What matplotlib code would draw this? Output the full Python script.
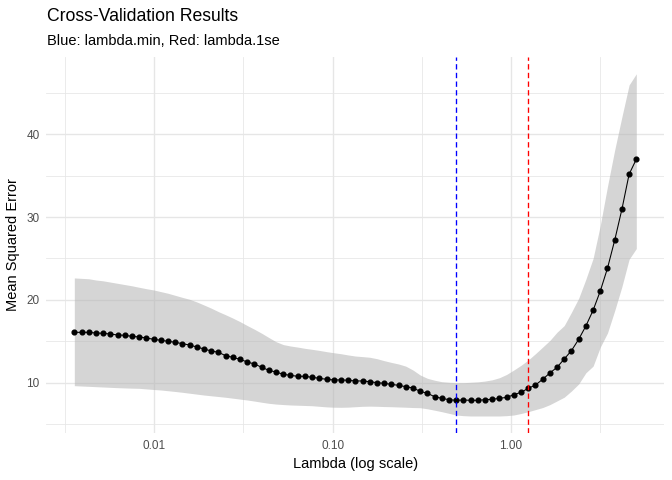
import numpy as np
import matplotlib
matplotlib.use("Agg")
import matplotlib.pyplot as plt
from matplotlib.ticker import FixedLocator, FixedFormatter

plt.rcParams['font.family'] = ['Liberation Sans', 'DejaVu Sans']

# cross-validation path
lam = [0.003565, 0.003913, 0.004294, 0.004713, 0.005172, 0.005676, 0.006229, 0.006836,
       0.007503, 0.008234, 0.009036, 0.009917, 0.01088, 0.01194, 0.01311, 0.01439,
       0.01579, 0.01733, 0.01902, 0.02087, 0.02291, 0.02514, 0.02759, 0.03028,
       0.03323, 0.03647, 0.04003, 0.04392, 0.04820, 0.05290, 0.05805, 0.06371,
       0.06992, 0.07674, 0.08422, 0.09243, 0.1014, 0.1113, 0.1222, 0.1341,
       0.1472, 0.1615, 0.1772, 0.1945, 0.2134, 0.2342, 0.2570, 0.2821,
       0.3096, 0.3398, 0.3729, 0.4092, 0.4491, 0.4929, 0.5409, 0.5936,
       0.6515, 0.7150, 0.7847, 0.8611, 0.9451, 1.037, 1.138, 1.249,
       1.371, 1.505, 1.651, 1.812, 1.988, 2.182, 2.396, 2.629,
       2.885, 3.166, 3.474, 3.813, 4.185, 4.592, 5.040]

mse = [16.08, 16.08, 16.08, 16.00, 15.96, 15.88, 15.76, 15.72, 15.60, 15.52,
       15.40, 15.24, 15.12, 15.00, 14.88, 14.71, 14.55, 14.31, 14.07, 13.83,
       13.67, 13.26, 13.06, 12.82, 12.50, 12.26, 11.86, 11.49, 11.29, 11.01,
       10.89, 10.77, 10.77, 10.65, 10.53, 10.41, 10.33, 10.33, 10.29, 10.21,
       10.21, 10.12, 10.00, 9.92, 9.80, 9.68, 9.52, 9.36, 8.96, 8.72,
       8.31, 8.11, 7.95, 7.87, 7.91, 7.87, 7.87, 7.95, 7.99, 8.11,
       8.23, 8.55, 8.84, 9.32, 9.72, 10.41, 11.17, 11.86, 12.86, 13.87,
       15.24, 16.85, 18.74, 21.07, 23.82, 27.20, 30.94, 35.17, 36.98]

upper = [22.65, 22.60, 22.55, 22.40, 22.30, 22.15, 22.00, 21.85, 21.70, 21.52,
         21.35, 21.20, 21.00, 20.80, 20.55, 20.30, 20.07, 19.75, 19.38, 19.00,
         18.58, 18.20, 17.80, 17.37, 16.90, 16.45, 15.97, 15.45, 14.95, 14.60,
         14.43, 14.30, 14.15, 14.03, 13.90, 13.75, 13.62, 13.50, 13.35, 13.22,
         13.15, 13.07, 12.90, 12.66, 12.45, 12.26, 12.00, 11.53, 10.93, 10.53,
         10.30, 10.12, 10.05, 10.00, 10.00, 10.05, 10.10, 10.20, 10.35, 10.60,
         11.00, 11.53, 12.10, 12.74, 13.50, 14.30, 15.10, 16.10, 16.90, 18.50,
         20.20, 22.50, 25.00, 29.00, 33.70, 38.10, 42.10, 45.95, 47.30]

lower = [9.64, 9.60, 9.56, 9.52, 9.48, 9.44, 9.40, 9.37, 9.34, 9.32,
         9.25, 9.18, 9.12, 9.03, 8.94, 8.84, 8.73, 8.62, 8.51, 8.42,
         8.33, 8.24, 8.13, 8.02, 7.91, 7.78, 7.64, 7.51, 7.42, 7.36,
         7.31, 7.28, 7.25, 7.22, 7.15, 7.08, 7.04, 7.03, 7.05, 7.10,
         7.15, 7.17, 7.15, 7.12, 7.10, 7.07, 7.04, 7.00, 6.98, 6.85,
         6.68, 6.50, 6.30, 6.10, 6.02, 5.98, 5.98, 5.98, 5.98, 5.98,
         6.02, 6.10, 6.28, 6.50, 6.75, 7.00, 7.35, 7.80, 8.25, 9.00,
         9.85, 11.20, 12.00, 14.30, 16.00, 18.70, 21.60, 24.90, 26.20]

lambda_min = 0.4929
lambda_1se = 1.249

x_breaks = [0.01, 0.1, 1.0]
x_labels = ["0.01", "0.10", "1.00"]
x_minor = [10**-2.5, 10**-1.5, 10**-0.5, 10**0.5]
y_breaks = [10, 20, 30, 40]
y_minor = [5, 15, 25, 35, 45]

fig = plt.figure(figsize=(7, 5), dpi=96)
ax = fig.add_axes([0.0688, 0.0977, 0.9887 - 0.0688, 0.8819 - 0.0977])
ax.set_xscale('log')

ax.fill_between(lam, lower, upper, color='#b3b3b3', alpha=0.55, lw=0, zorder=2)
ax.plot(lam, mse, color='black', lw=0.8, zorder=3)
ax.plot(lam, mse, 'o', color='black', ms=3.6, zorder=4)
ax.axvline(lambda_min, color='blue', ls=(0, (4, 2.5)), lw=1.0, zorder=5)
ax.axvline(lambda_1se, color='red', ls=(0, (4, 2.5)), lw=1.0, zorder=5)

ax.margins(x=0.05, y=0.05)

ax.xaxis.set_major_locator(FixedLocator(x_breaks))
ax.xaxis.set_major_formatter(FixedFormatter(x_labels))
ax.xaxis.set_minor_locator(FixedLocator(x_minor))
ax.xaxis.set_minor_formatter(FixedFormatter([''] * len(x_minor)))
ax.yaxis.set_major_locator(FixedLocator(y_breaks))
ax.yaxis.set_minor_locator(FixedLocator(y_minor))

ax.grid(which='major', color='#e6e6e6', lw=1.0, zorder=0)
ax.grid(which='minor', color='#e6e6e6', lw=0.6, zorder=0)
ax.set_axisbelow(True)
for s in ax.spines.values():
    s.set_visible(False)
ax.tick_params(which='both', length=0, labelsize=8.8, labelcolor='#4d4d4d', pad=5)

ax.set_xlabel('Lambda (log scale)', fontsize=11, labelpad=4)
ax.set_ylabel('Mean Squared Error', fontsize=11, labelpad=5)

fig.text(0.0695, 0.957, 'Cross-Validation Results', fontsize=13.2, va='baseline', ha='left')
fig.text(0.0695, 0.906, 'Blue: lambda.min, Red: lambda.1se', fontsize=11, va='baseline', ha='left')

fig.savefig('out.png', dpi=96)
